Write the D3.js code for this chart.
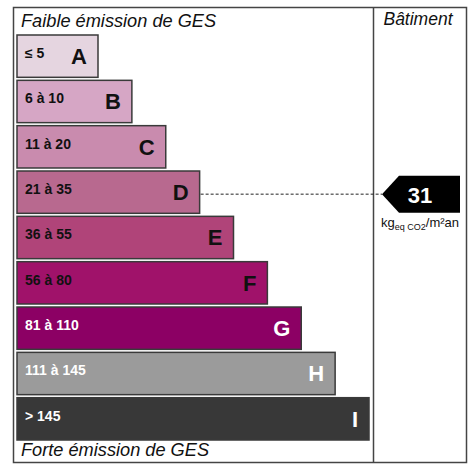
<!DOCTYPE html>
<html>
<head>
<meta charset="utf-8">
<script src="https://cdn.jsdelivr.net/npm/d3@7"></script>
<style>
body { margin: 0; background: #fff; }
svg text { font-family: "Liberation Sans", Arial, sans-serif; }
</style>
</head>
<body>
<div id="chart"></div>
<script>
// CLASSES, RANGES AND COLOURS
var classes = ["A", "B", "C", "D", "E", "F", "G", "H", "I"];
var ranges = ["\u2264 5", "6 \u00e0 10", "11 \u00e0 20", "21 \u00e0 35", "36 \u00e0 55", "56 \u00e0 80", "81 \u00e0 110", "111 \u00e0 145", "> 145"];
var colors = ["#e5d5e0", "#d6a6c5", "#c98bae", "#b8698f", "#b04479", "#a0126a", "#8c0064", "#9b9b9b", "#383838"];
var textColors = ["#111", "#111", "#111", "#111", "#111", "#111", "#fff", "#fff", "#fff"];
var barRank = [1, 2, 3, 4, 5, 6, 7, 8, 9];

var value = 31;
var valueClass = "D";

var W = 473, H = 466;

var svg = d3.select("#chart").append("svg")
  .attr("width", W)
  .attr("height", H);

// FRAME
var frame = {left: 13.5, top: 7.5, right: 466.5, bottom: 462.5, split: 373.5};

// SCALES
var yScale = d3.scaleBand()
  .domain(classes)
  .range([35, 440])
  .paddingInner(3 / 45)
  .paddingOuter(0);

var xScale = d3.scaleLinear()
  .domain([1, 9])
  .range([98, 369]);

var barLeft = 17;

// BARS
var rows = svg.selectAll("g.row")
  .data(classes)
  .enter().append("g")
  .attr("class", "row")
  .attr("transform", function(d) { return "translate(0," + yScale(d) + ")"; });

rows.append("rect")
  .attr("x", barLeft)
  .attr("y", 0)
  .attr("width", function(d, i) { return xScale(barRank[i]) - barLeft; })
  .attr("height", yScale.bandwidth())
  .attr("fill", function(d, i) { return colors[i]; })
  .attr("stroke", "#3a3a3a")
  .attr("stroke-width", 1.5);

rows.append("text")
  .attr("x", 25)
  .attr("y", 23)
  .attr("font-size", 14)
  .attr("font-weight", "bold")
  .attr("fill", function(d, i) { return textColors[i]; })
  .text(function(d, i) { return ranges[i]; });

rows.append("text")
  .attr("x", function(d, i) { return xScale(barRank[i]) - 11; })
  .attr("y", 29)
  .attr("text-anchor", "end")
  .attr("font-size", 22)
  .attr("font-weight", "bold")
  .attr("fill", function(d, i) { return textColors[i]; })
  .text(function(d) { return d; });

// OUTER FRAME AND SPLIT
svg.append("rect")
  .attr("x", frame.left)
  .attr("y", frame.top)
  .attr("width", frame.right - frame.left)
  .attr("height", frame.bottom - frame.top)
  .attr("fill", "none")
  .attr("stroke", "#444")
  .attr("stroke-width", 1.5);

svg.append("line")
  .attr("x1", frame.split).attr("x2", frame.split)
  .attr("y1", frame.top).attr("y2", frame.bottom)
  .attr("stroke", "#444")
  .attr("stroke-width", 1.5);

// HEADERS
svg.append("text")
  .attr("x", 21).attr("y", 27)
  .attr("font-size", 18.2)
  .attr("font-style", "italic")
  .attr("fill", "#111")
  .text("Faible \u00e9mission de GES");

svg.append("text")
  .attr("x", 21).attr("y", 456)
  .attr("font-size", 18.2)
  .attr("font-style", "italic")
  .attr("fill", "#111")
  .text("Forte \u00e9mission de GES");

svg.append("text")
  .attr("x", 418).attr("y", 25)
  .attr("text-anchor", "middle")
  .attr("font-size", 17.5)
  .attr("font-style", "italic")
  .attr("fill", "#111")
  .text("B\u00e2timent");

// VALUE ARROW
var vi = classes.indexOf(valueClass);
var yMid = yScale(valueClass) + yScale.bandwidth() / 2 + 2;
var tipX = 382, bodyX = 399, rightX = 460, halfH = 18.5;

svg.append("line")
  .attr("x1", xScale(barRank[vi]) + 1)
  .attr("x2", tipX)
  .attr("y1", yMid).attr("y2", yMid)
  .attr("stroke", "#222")
  .attr("stroke-width", 1)
  .attr("stroke-dasharray", "3,2");

svg.append("path")
  .attr("d", d3.line()([
    [tipX, yMid], [bodyX, yMid - halfH], [rightX, yMid - halfH],
    [rightX, yMid + halfH], [bodyX, yMid + halfH]
  ]) + "Z")
  .attr("fill", "#000");

svg.append("text")
  .attr("x", 420).attr("y", yMid + 9)
  .attr("text-anchor", "middle")
  .attr("font-size", 22)
  .attr("font-weight", "bold")
  .attr("fill", "#fff")
  .text(value);

var unit = svg.append("text")
  .attr("x", 420).attr("y", 227)
  .attr("text-anchor", "middle")
  .attr("font-size", 13)
  .attr("fill", "#111");
unit.append("tspan").text("kg");
unit.append("tspan").attr("font-size", 9).attr("dy", 3).text("eq CO2");
unit.append("tspan").attr("dy", -3).text("/m\u00b2an");
</script>
</body>
</html>
